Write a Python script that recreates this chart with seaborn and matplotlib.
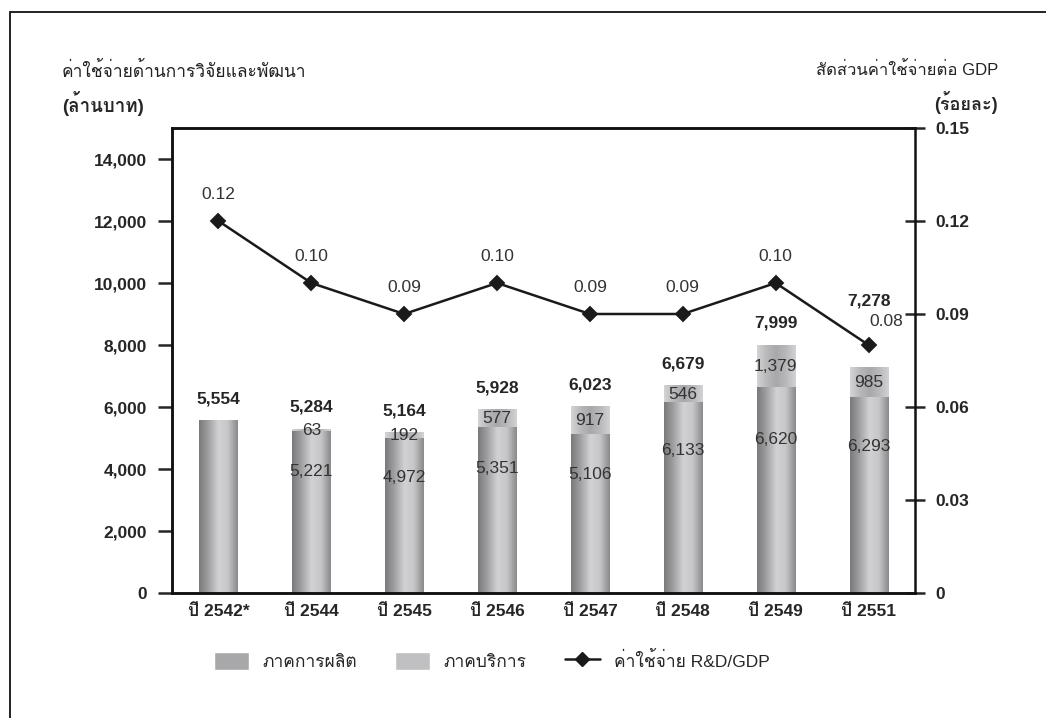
import numpy as np
import pandas as pd
import matplotlib
matplotlib.use("Agg")
import matplotlib.pyplot as plt
import seaborn as sns
from matplotlib import font_manager, ft2font
from matplotlib.colors import LinearSegmentedColormap
from matplotlib.patches import Patch
from matplotlib.lines import Line2D

# data
years = ["ปี 2542*", "ปี 2544", "ปี 2545", "ปี 2546", "ปี 2547", "ปี 2548", "ปี 2549", "ปี 2551"]
totals = [5554, 5284, 5164, 5928, 6023, 6679, 7999, 7278]
manufacturing = [np.nan, 5221, 4972, 5351, 5106, 6133, 6620, 6293]
services = [np.nan, 63, 192, 577, 917, 546, 1379, 985]
rd_gdp = [0.12, 0.10, 0.09, 0.10, 0.09, 0.09, 0.10, 0.08]

left_title = "ค่าใช้จ่ายด้านการวิจัยและพัฒนา"
left_unit = "(ล้านบาท)"
right_title = "สัดส่วนค่าใช้จ่ายต่อ GDP"
right_unit = "(ร้อยละ)"
legend_labels = ["ภาคการผลิต", "ภาคบริการ", "ค่าใช้จ่าย R&D/GDP"]


def thai_family():
    # find any installed font that has Thai glyphs
    for f in font_manager.fontManager.ttflist:
        try:
            if 0x0E04 in ft2font.FT2Font(f.fname).get_charmap():
                return f.name
        except Exception:
            pass
    return None


sns.set_style("white")
fams = ["Liberation Sans"]
tf = thai_family()
if tf:
    fams.append(tf)
fams.append("DejaVu Sans")
plt.rcParams["font.family"] = fams

df = pd.DataFrame({"year": years, "total": totals,
                   "mfg": manufacturing, "svc": services})
df["lower"] = df["mfg"].fillna(df["total"])

fig, ax = plt.subplots(figsize=(10.46, 7.18), dpi=100)
fig.subplots_adjust(left=172 / 1046, right=915 / 1046,
                    bottom=1 - 593 / 718, top=1 - 128 / 718)

dark = LinearSegmentedColormap.from_list(
    "dark", ["#787a7c", "#a2a2a4", "#d2d2d4", "#c6c6c8", "#8a8a8c"])
light = LinearSegmentedColormap.from_list(
    "light", ["#d4d4d6", "#b8b8ba", "#a8a8aa", "#b8b8ba", "#d2d2d4"])
grad = np.linspace(0, 1, 64).reshape(1, -1)


def shade(patches, cmap, z):
    for p in patches:
        x, y, w, h = p.get_x(), p.get_y(), p.get_width(), p.get_height()
        if not np.isfinite(h) or h == 0:
            continue
        ax.imshow(grad, cmap=cmap, extent=(x, x + w, y, y + h),
                  aspect="auto", zorder=z, interpolation="bicubic")
        p.set_visible(False)


sns.barplot(data=df, x="year", y="total", width=0.41, color="#b8b8ba",
            ax=ax, errorbar=None)
shade(ax.containers[0], light, 1)
sns.barplot(data=df, x="year", y="lower", width=0.41, color="#a4a4a6",
            ax=ax, errorbar=None)
shade(ax.containers[1], dark, 2)

# value labels
for i, row in df.iterrows():
    off = 2150 if i == len(df) - 1 else 700
    ax.text(i, row["total"] + off, f"{row['total']:,.0f}", ha="center",
            va="center", fontsize=12.5, fontweight="bold", zorder=5)
    if np.isfinite(row["mfg"]):
        ax.text(i, row["mfg"] * 0.75, f"{row['mfg']:,.0f}", ha="center",
                va="center", fontsize=12.5, color="#333333", zorder=5)
        ax.text(i, row["mfg"] + row["svc"] / 2, f"{row['svc']:,.0f}",
                ha="center", va="center", fontsize=12.5, color="#333333", zorder=5)

ax.set_xlim(-0.5, len(years) - 0.5)
ax.set_ylim(0, 15000)
ax.set_yticks(range(0, 14001, 2000))
ax.set_yticklabels([f"{v:,}" for v in range(0, 14001, 2000)],
                   fontsize=12.5, fontweight="bold")
ax.set_xticks(range(len(years)))
ax.set_xticklabels(years, fontsize=12.5, fontweight="bold")
ax.set_xticks(np.arange(-0.5, len(years)), minor=True)
ax.tick_params(axis="x", which="major", length=0, pad=8)
ax.tick_params(axis="x", which="minor", length=10, width=1.8, direction="out")
ax.tick_params(axis="y", length=10, width=1.8, direction="out", pad=8)
ax.set_xlabel("")
ax.set_ylabel("")
for s in ax.spines.values():
    s.set_linewidth(1.8)
    s.set_color("#111111")
ax.spines["right"].set_visible(False)

# R&D / GDP line on the right axis
ax2 = ax.twinx()
sns.pointplot(x=years, y=rd_gdp, ax=ax2, color="#1a1a1a", markers="D",
              errorbar=None, markersize=7, linewidth=1.8)
for i, v in enumerate(rd_gdp):
    dx, dy = (13, 17) if i == len(rd_gdp) - 1 else (0, 19)
    ax2.annotate(f"{v:.2f}", (i, v), xytext=(dx, dy), textcoords="offset points",
                 ha="center", va="center", fontsize=12.5, color="#333333")
ax2.set_xlim(-0.5, len(years) - 0.5)
ax2.set_ylim(0, 0.15)
r_ticks = [0, 0.03, 0.06, 0.09, 0.12, 0.15]
ax2.set_yticks(r_ticks)
ax2.set_yticklabels(["0"] + [f"{t:.2f}" for t in r_ticks[1:]],
                    fontsize=12.5, fontweight="bold")
ax2.tick_params(axis="y", length=14, width=1.8, direction="inout", pad=8)
ax2.set_ylabel("")
for s in ax2.spines.values():
    s.set_linewidth(1.8)
    s.set_color("#111111")

# axis titles
fig.text(62 / 1046, 1 - 70 / 718, left_title, fontsize=12.5, color="#222222", va="center")
fig.text(62 / 1046, 1 - 104 / 718, left_unit, fontsize=13.5, fontweight="bold", va="center")
fig.text(998 / 1046, 1 - 70 / 718, right_title, fontsize=12, color="#222222",
         va="center", ha="right")
fig.text(998 / 1046, 1 - 103 / 718, right_unit, fontsize=13, fontweight="bold",
         va="center", ha="right")

handles = [Patch(facecolor="#a8a8aa"), Patch(facecolor="#c0c0c2"),
           Line2D([], [], color="#1a1a1a", marker="D", markersize=7, linewidth=1.8)]
fig.legend(handles, legend_labels, loc="center", bbox_to_anchor=(0.47, 1 - 660 / 718),
           ncol=3, frameon=False, fontsize=12.5, columnspacing=2.2,
           handlelength=2.0, handleheight=1.2, handletextpad=0.8)

# frame around the page
fig.add_artist(Line2D([10 / 1046, 10 / 1046], [0, 1 - 12 / 718], color="#222222", lw=1.4))
fig.add_artist(Line2D([10 / 1046, 1], [1 - 12 / 718, 1 - 12 / 718], color="#222222", lw=1.4))

fig.savefig("out.png", dpi=100)
